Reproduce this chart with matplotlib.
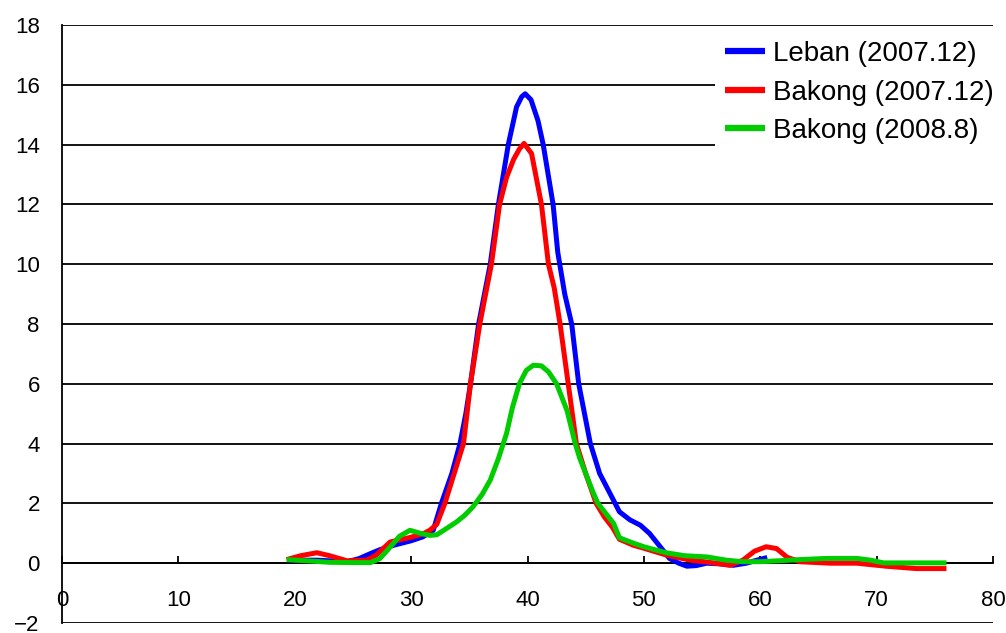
import matplotlib
matplotlib.use("Agg")
import matplotlib.pyplot as plt

plt.rcParams['font.family'] = ['Liberation Sans', 'DejaVu Sans']

# Leban (2007.12)
leban_x = [19.5, 22, 24.5, 25.5, 26.5, 27.3, 28.5, 30, 31, 31.9, 32.6, 33.5, 34.2, 34.7,
           35.1, 35.8, 36.8, 37.5, 38.35, 39.06, 39.5, 39.8, 40.3, 40.9, 41.35, 42.2, 42.6,
           43.2, 43.8, 44.4, 45.0, 45.4, 46.2, 47.0, 47.9, 48.8, 49.7, 50.5, 51.3, 52.2,
           53.0, 53.7, 54.5, 55.4, 56.5, 57.7, 58.8, 59.7, 60.6]
leban_y = [0.1, 0.1, 0.05, 0.15, 0.32, 0.45, 0.6, 0.75, 0.88, 1.1, 2.0, 3.0, 4.0, 5.0,
           6.0, 8.0, 10.0, 12.0, 14.0, 15.26, 15.6, 15.7, 15.5, 14.8, 14.0, 12.0, 10.4,
           9.0, 8.0, 6.0, 4.8, 4.0, 3.0, 2.4, 1.72, 1.45, 1.27, 0.99, 0.6, 0.16,
           0.0, -0.1, -0.08, 0.0, -0.02, -0.07, 0.0, 0.1, 0.19]

# Bakong (2007.12)
bak07_x = [19.3, 20.5, 21.9, 23, 24.5, 26.2, 27.0, 28.2, 29.9, 31.0, 31.6, 32.2, 32.9, 33.7,
           34.5, 35.1, 35.9, 36.9, 37.6, 38.2, 38.8, 39.3, 39.7, 40.35, 41.2, 41.8, 42.3,
           42.8, 43.5, 44.2, 45.0, 45.9, 46.6, 47.3, 47.9, 49.1, 50.0, 51.95, 54.0, 55.4,
           57.4, 58.5, 59.5, 60.5, 61.4, 62.3, 63.4, 66.0, 68.3, 70.8, 73.4, 76.0]
bak07_y = [0.12, 0.25, 0.35, 0.25, 0.08, 0.1, 0.27, 0.71, 0.86, 0.98, 1.1, 1.3, 2.0, 3.0,
           4.0, 6.0, 8.0, 10.0, 12.0, 12.9, 13.5, 13.85, 14.04, 13.7, 12.0, 10.0, 9.2,
           8.0, 6.0, 4.0, 3.0, 2.0, 1.55, 1.2, 0.8, 0.6, 0.5, 0.27, 0.1, 0.04,
           -0.07, 0.1, 0.4, 0.55, 0.49, 0.2, 0.05, 0.0, 0.0, -0.1, -0.18, -0.18]

# Bakong (2008.8)
bak08_x = [19.3, 21, 23, 25, 26.5, 27.3, 28.0, 29.0, 29.9, 30.8, 31.6, 32.2, 33.0, 33.9,
           34.6, 35.3, 36.1, 36.8, 37.5, 38.2, 38.7, 39.3, 39.9, 40.5, 41.2, 41.8, 42.5,
           43.4, 44.1, 44.5, 45.6, 46.05, 47.4, 47.9, 49.1, 50.0, 51.9, 53.5, 55.4, 57.1,
           58.5, 60.0, 61.5, 63.4, 65.7, 68.3, 69.5, 70.6, 73.4, 76.0]
bak08_y = [0.12, 0.08, 0.03, 0.02, 0.02, 0.15, 0.45, 0.9, 1.1, 1.0, 0.93, 0.95, 1.15, 1.38,
           1.6, 1.88, 2.3, 2.78, 3.5, 4.34, 5.2, 6.0, 6.45, 6.62, 6.6, 6.4, 6.0,
           5.1, 4.0, 3.5, 2.4, 2.0, 1.33, 0.85, 0.67, 0.55, 0.35, 0.25, 0.21, 0.1,
           0.05, 0.05, 0.08, 0.12, 0.16, 0.16, 0.1, 0.01, 0.01, 0.01]

labels = ["Leban (2007.12)", "Bakong (2007.12)", "Bakong (2008.8)"]
colors = ["#0000FF", "#FF0000", "#00CC00"]
xticks = [0, 10, 20, 30, 40, 50, 60, 70, 80]
yticks = [-2, 0, 2, 4, 6, 8, 10, 12, 14, 16, 18]

fig = plt.figure(figsize=(10.06, 6.33), dpi=100)
ax = fig.add_axes([62/1006, 1-623/633, (993-62)/1006, (623-25)/633])

for xs, ys, lab, c in zip([leban_x, bak07_x, bak08_x], [leban_y, bak07_y, bak08_y], labels, colors):
    ax.plot(xs, ys, color=c, lw=3.6, label=lab, solid_joinstyle='round',
            solid_capstyle='butt', zorder=3)

ax.set_xlim(0, 80)
ax.set_ylim(-2, 18)
ax.set_xticks(xticks)
ax.set_yticks(yticks)
ax.set_xticklabels([str(v) for v in xticks])
ax.set_yticklabels([str(v).replace('-', '\u2212') for v in yticks])
ax.yaxis.grid(True, color='black', lw=1.3)
ax.set_axisbelow(True)

for s in ['top', 'right']:
    ax.spines[s].set_visible(False)
ax.spines['bottom'].set_position(('data', 0))
ax.spines['bottom'].set_linewidth(1.3)
ax.spines['left'].set_linewidth(1.3)
ax.tick_params(axis='x', direction='in', length=5, width=1.3, pad=19, labelsize=16)
ax.tick_params(axis='y', length=0, pad=16, labelsize=16)

leg = ax.legend(loc='upper left', bbox_to_anchor=(715/1006, 1-31/633),
                bbox_transform=fig.transFigure, fontsize=20, frameon=True,
                facecolor='white', edgecolor='none', framealpha=1, fancybox=False,
                handlelength=1.44, handletextpad=0.29, labelspacing=0.45, borderpad=0.36,
                borderaxespad=0)
leg.set_zorder(5)
for line in leg.get_lines():
    line.set_linewidth(4.5)

fig.savefig("out.png", dpi=100)
